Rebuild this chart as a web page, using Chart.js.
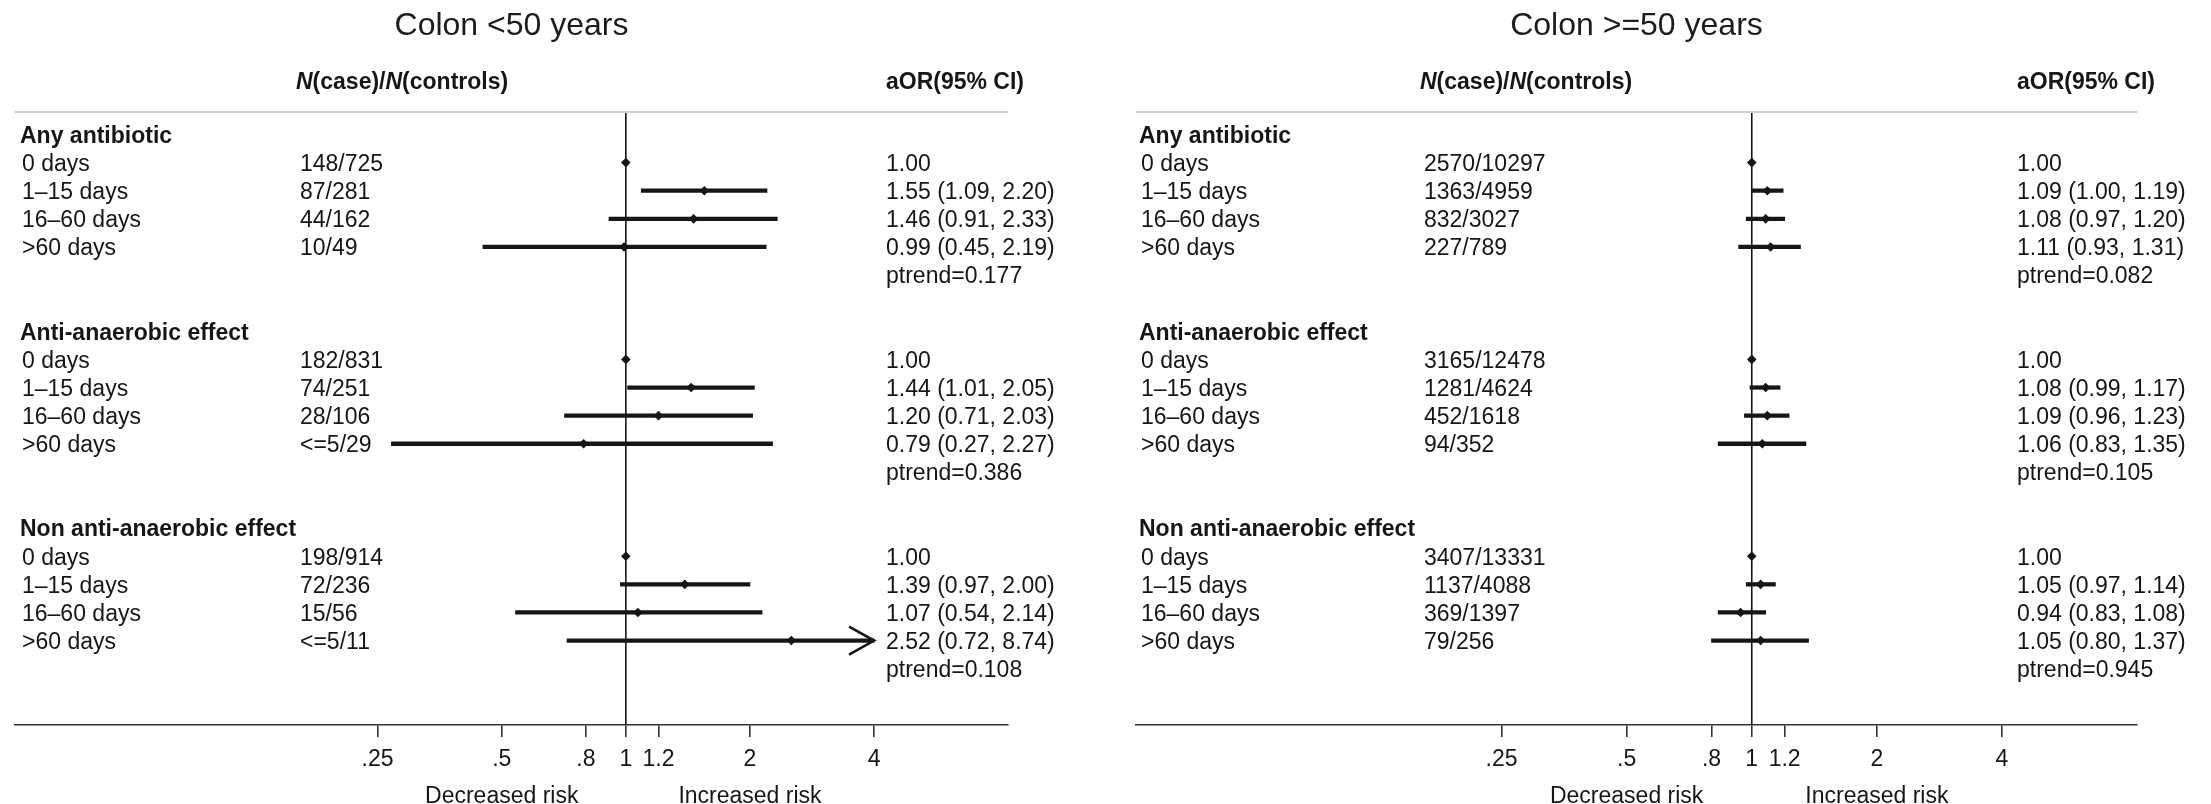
<!DOCTYPE html>
<html>
<head>
<meta charset="utf-8">
<script src="https://cdn.jsdelivr.net/npm/chart.js@4/dist/chart.umd.min.js"></script>
<style>
  html, body { margin: 0; padding: 0; background: #fff; }
  #wrap { position: relative; width: 2211px; height: 804px; }
  .panel { position: absolute; top: 0; height: 804px; }
</style>
</head>
<body>
<div id="wrap">
  <div class="panel" style="left:0;width:1105px"><canvas id="young"></canvas></div>
  <div class="panel" style="left:1105px;width:1106px"><canvas id="old"></canvas></div>
</div>
<script>
// Row layout shared by both panels
const groups = ['Any antibiotic', 'Anti-anaerobic effect', 'Non anti-anaerobic effect'];
const durations = ['0 days', '1–15 days', '16–60 days', '>60 days'];
const tickValues = [0.25, 0.5, 0.8, 1, 1.2, 2, 4];
const tickLabels = ['.25', '.5', '.8', '1', '1.2', '2', '4'];
const nullValue = 1;   // no-effect reference line
const ciCap = 4;       // intervals beyond this end in an arrow

// Colon <50 years
const youngCounts = ['148/725', '87/281', '44/162', '10/49',
                     '182/831', '74/251', '28/106', '<=5/29',
                     '198/914', '72/236', '15/56', '<=5/11'];
const youngOR   = [1.00, 1.55, 1.46, 0.99,  1.00, 1.44, 1.20, 0.79,  1.00, 1.39, 1.07, 2.52];
const youngLow  = [null, 1.09, 0.91, 0.45,  null, 1.01, 0.71, 0.27,  null, 0.97, 0.54, 0.72];
const youngHigh = [null, 2.20, 2.33, 2.19,  null, 2.05, 2.03, 2.27,  null, 2.00, 2.14, 8.74];
const youngPtrend = ['0.177', '0.386', '0.108'];

// Colon >=50 years
const oldCounts = ['2570/10297', '1363/4959', '832/3027', '227/789',
                   '3165/12478', '1281/4624', '452/1618', '94/352',
                   '3407/13331', '1137/4088', '369/1397', '79/256'];
const oldOR   = [1.00, 1.09, 1.08, 1.11,  1.00, 1.08, 1.09, 1.06,  1.00, 1.05, 0.94, 1.05];
const oldLow  = [null, 1.00, 0.97, 0.93,  null, 0.99, 0.96, 0.83,  null, 0.97, 0.83, 0.80];
const oldHigh = [null, 1.19, 1.20, 1.31,  null, 1.17, 1.23, 1.35,  null, 1.14, 1.08, 1.37];
const oldPtrend = ['0.082', '0.105', '0.945'];

const FONT = '"Liberation Sans", Arial, Helvetica, sans-serif';
const INK = '#161616';
const TEXT_SIZE = 23;
const TEXT_DROP = 2;   // nudge so glyphs sit centred on each row
const Y_MIN = -0.8, Y_MAX = 21;

// group header on row g*7, its four durations below, p-trend on row g*7+5
const rowOf = i => Math.floor(i / 4) * 7 + 1 + (i % 4);

function orText(or, lo, hi) {
  return lo == null ? or.toFixed(2) : `${or.toFixed(2)} (${lo.toFixed(2)}, ${hi.toFixed(2)})`;
}

function buildPanel(id, title, counts, or, low, high, ptrend, frame) {
  const ciData = [], pointData = [];
  or.forEach((v, i) => {
    pointData.push({ x: v, y: rowOf(i) });
    if (low[i] != null) ciData.push({ x: [low[i], Math.min(high[i], ciCap)], y: rowOf(i) });
  });

  const columns = {
    id: 'forestColumns',
    afterDraw(chart) {
      const { ctx, chartArea: a, scales: { x, y } } = chart;
      const labelX = a.left + frame.labelX, countX = a.left + frame.countX, orX = a.left + frame.orX;
      const rowY = r => y.getPixelForValue(r) + TEXT_DROP;
      ctx.save();

      // light rule under the column headings
      ctx.strokeStyle = '#cfcfcf';
      ctx.lineWidth = 2;
      ctx.beginPath(); ctx.moveTo(a.left, a.top); ctx.lineTo(a.right, a.top); ctx.stroke();

      ctx.fillStyle = INK;
      ctx.textBaseline = 'middle';
      ctx.textAlign = 'left';

      // column headings: N(case)/N(controls) with italic N
      const hy = a.top - 29;
      let hx = countX - 4;
      [['N', true], ['(case)/', false], ['N', true], ['(controls)', false]].forEach(([t, it]) => {
        ctx.font = `${it ? 'italic ' : ''}bold ${TEXT_SIZE}px ${FONT}`;
        ctx.fillText(t, hx, hy);
        hx += ctx.measureText(t).width;
      });
      ctx.font = `bold ${TEXT_SIZE}px ${FONT}`;
      ctx.fillText('aOR(95% CI)', orX, hy);

      groups.forEach((g, gi) => {
        ctx.font = `bold ${TEXT_SIZE}px ${FONT}`;
        ctx.fillText(g, labelX, rowY(gi * 7));
        ctx.font = `${TEXT_SIZE}px ${FONT}`;
        ctx.fillText('ptrend=' + ptrend[gi], orX, rowY(gi * 7 + 5));
      });

      ctx.font = `${TEXT_SIZE}px ${FONT}`;
      or.forEach((v, i) => {
        const py = rowY(rowOf(i));
        ctx.fillText(durations[i % 4], labelX + 2, py);
        ctx.fillText(counts[i], countX, py);
        ctx.fillText(orText(v, low[i], high[i]), orX, py);
      });

      // arrow heads for intervals running past the cap
      ctx.strokeStyle = INK;
      ctx.lineWidth = 2.6;
      high.forEach((h, i) => {
        if (h != null && h > ciCap) {
          const px = x.getPixelForValue(ciCap), py = y.getPixelForValue(rowOf(i));
          ctx.beginPath();
          ctx.moveTo(px - 25, py - 14); ctx.lineTo(px, py); ctx.lineTo(px - 25, py + 14);
          ctx.stroke();
        }
      });

      // direction captions under the axis
      ctx.font = `${TEXT_SIZE}px ${FONT}`;
      ctx.textAlign = 'center';
      ctx.fillText('Decreased risk', x.getPixelForValue(0.5), a.bottom + 72);
      ctx.fillText('Increased risk', x.getPixelForValue(2), a.bottom + 72);
      ctx.restore();
    }
  };

  return new Chart(document.getElementById(id), {
    type: 'bar',
    data: {
      datasets: [
        {
          type: 'scatter', data: [{ x: nullValue, y: Y_MIN }, { x: nullValue, y: Y_MAX }],
          showLine: true, borderColor: INK, borderWidth: 1.6, pointRadius: 0, order: 3
        },
        {
          type: 'bar', data: ciData, backgroundColor: INK, barThickness: 3.6, order: 2
        },
        {
          type: 'scatter', data: pointData, pointStyle: 'rectRot', pointRadius: 4.8,
          backgroundColor: INK, borderWidth: 0, order: 1
        }
      ]
    },
    options: {
      indexAxis: 'y',
      responsive: true,
      maintainAspectRatio: false,
      animation: false,
      events: [],
      layout: { padding: { left: frame.padLeft, right: frame.padRight, top: 0, bottom: 21.5 } },
      plugins: {
        legend: { display: false },
        tooltip: { enabled: false },
        title: {
          display: true, text: title, color: '#1c1c1c',
          font: { family: FONT, size: 32, weight: 'normal' },
          padding: { top: 7, bottom: 66.6 }
        }
      },
      scales: {
        x: {
          type: 'logarithmic', min: 0.033, max: 8.45, offset: false, beginAtZero: false,
          afterBuildTicks: s => { s.ticks = tickValues.map(v => ({ value: v })); },
          ticks: {
            autoSkip: false, maxRotation: 0, padding: 9, color: INK,
            font: { family: FONT, size: TEXT_SIZE },
            callback: v => { const k = tickValues.indexOf(v); return k >= 0 ? tickLabels[k] : ''; }
          },
          grid: { drawOnChartArea: false, drawTicks: true, tickLength: 12, color: '#333', lineWidth: 1.6 },
          border: { display: true, color: '#333', width: 1.6 }
        },
        y: {
          type: 'linear', min: Y_MIN, max: Y_MAX, reverse: true, offset: false, display: false
        }
      }
    },
    plugins: [columns]
  });
}

buildPanel('young', 'Colon <50 years', youngCounts, youngOR, youngLow, youngHigh, youngPtrend,
  { padLeft: 15, padRight: 97, labelX: 5, countX: 285, orX: 871 });
buildPanel('old', 'Colon >=50 years', oldCounts, oldOR, oldLow, oldHigh, oldPtrend,
  { padLeft: 31, padRight: 74, labelX: 3, countX: 288, orX: 881 });
</script>
</body>
</html>
